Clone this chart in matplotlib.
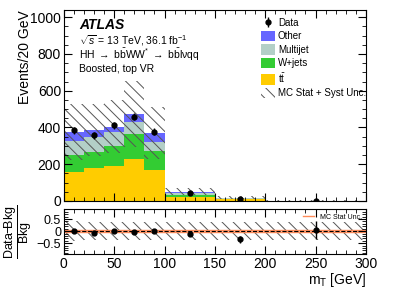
import matplotlib
matplotlib.use("Agg")
import matplotlib.pyplot as plt
import numpy as np
from matplotlib.ticker import MultipleLocator

plt.rcParams['font.family'] = ['Liberation Sans', 'DejaVu Sans']
plt.rcParams['mathtext.fontset'] = 'custom'
plt.rcParams['mathtext.rm'] = 'Liberation Sans'
plt.rcParams['mathtext.it'] = 'Liberation Sans:italic'
plt.rcParams['hatch.color'] = '#555555'
plt.rcParams['hatch.linewidth'] = 0.7

# bins in m_T [GeV], contents in events / 20 GeV
edges = [0, 20, 40, 60, 80, 100, 150, 200, 300]
ttbar = [158, 177, 191, 227, 171, 23, 10, 1.2]
wjets = [91, 89, 108, 139, 99, 10, 3, 0.4]
multijet = [77, 82, 76, 63, 51, 8, 2, 0.2]
other = [49, 39, 30, 45, 48, 9, 3, 0.3]
bkg_unc = [150, 140, 145, 180, 140, 19, 7, 0.8]
data = [384, 357, 411, 459, 378, 45, 12, 2.2]
data_err = [20, 19, 20, 21, 19, 4, 2.5, 0.8]
mc_stat = [0.05, 0.05, 0.05, 0.05, 0.05, 0.05, 0.05, 0.05]

edges = np.array(edges, dtype=float)
centers = 0.5 * (edges[:-1] + edges[1:])
widths = np.diff(edges)

fig = plt.figure(figsize=(3.99, 2.90), dpi=100)
ax = fig.add_axes([0.160, 0.307, 0.757, 0.659])
rax = fig.add_axes([0.160, 0.124, 0.757, 0.154])

stack = [(ttbar, '#ffcc00', r'$\mathrm{t\bar{t}}$'),
         (wjets, '#33cc33', 'W+jets'),
         (multijet, '#b3cfc7', 'Multijet'),
         (other, '#6666ff', 'Other')]
bottom = np.zeros(len(centers))
handles = {}
for vals, col, lab in stack:
    vals = np.array(vals)
    b = ax.bar(edges[:-1], vals, width=widths, bottom=bottom, align='edge',
               color=col, edgecolor='none', label=lab)
    handles[lab] = b
    bottom = bottom + vals
total = bottom

unc = np.array(bkg_unc)
hb = ax.bar(edges[:-1], 2 * unc, width=widths, bottom=total - unc, align='edge',
            color='none', edgecolor='#555555', linewidth=0, hatch='\\\\\\',
            label='MC Stat + Syst Unc.')
de = ax.errorbar(centers, data, yerr=data_err, fmt='o', color='black',
                 markersize=3.5, elinewidth=1.0, capsize=0, label='Data')

ax.set_xlim(0, 300)
ax.set_ylim(0, 1040)
ax.set_ylabel('Events/20 GeV', fontsize=10, loc='top')
ax.yaxis.set_label_coords(-0.105, 1.0)
ax.yaxis.set_major_locator(MultipleLocator(200))
ax.yaxis.set_minor_locator(MultipleLocator(50))
ax.xaxis.set_major_locator(MultipleLocator(50))
ax.xaxis.set_minor_locator(MultipleLocator(10))
ax.tick_params(axis='both', which='both', direction='in', top=True, right=True,
               labelsize=10, pad=2)
ax.tick_params(which='major', length=6)
ax.tick_params(which='minor', length=3)
ax.tick_params(axis='x', labelbottom=False)

ax.text(0.05, 0.90, 'ATLAS', transform=ax.transAxes, fontsize=10,
        fontweight='bold', fontstyle='italic')
ax.text(0.05, 0.82, r'$\sqrt{s}$ = 13 TeV, 36.1 fb$^{-1}$', transform=ax.transAxes,
        fontsize=7.5)
ax.text(0.05, 0.745, r'HH $\rightarrow$ $\mathrm{b\bar{b}WW^{*}}$ $\rightarrow$ '
        r'$\mathrm{b\bar{b}l\nu qq}$', transform=ax.transAxes, fontsize=7.5)
ax.text(0.05, 0.675, 'Boosted, top VR', transform=ax.transAxes, fontsize=7.5)

order = [de, handles['Other'], handles['Multijet'], handles['W+jets'],
         handles[r'$\mathrm{t\bar{t}}$'], hb]
ax.legend(order, [h.get_label() for h in order], loc='upper left',
          bbox_to_anchor=(0.63, 0.995), frameon=False, fontsize=7,
          handlelength=1.4, handleheight=1.25, labelspacing=0.3,
          handletextpad=0.35, borderaxespad=0.3)

# ratio panel
ratio = (np.array(data) - total) / total
ratio_err = np.array(data_err) / total
rel_unc = unc / total
ms = np.array(mc_stat)
rax.bar(edges[:-1], 2 * rel_unc, width=widths, bottom=-rel_unc, align='edge',
        color='none', edgecolor='#555555', linewidth=0, hatch='\\\\\\')
rax.bar(edges[:-1], 2 * ms, width=widths, bottom=-ms, align='edge',
        color='#ffb08a', alpha=0.6, edgecolor='none')
rax.stairs(ms, edges, color='#ff8c5a', linewidth=1.0, baseline=None,
           label='MC Stat Unc.')
rax.stairs(-ms, edges, color='#ff8c5a', linewidth=1.0, baseline=None)
rax.axhline(0, color='black', linestyle='--', linewidth=0.8)
rax.errorbar(centers, ratio, yerr=ratio_err, fmt='o', color='black',
             markersize=3.5, elinewidth=1.0, capsize=0)
rax.set_xlim(0, 300)
rax.set_ylim(-0.95, 0.9)
rax.yaxis.set_major_locator(MultipleLocator(0.5))
rax.yaxis.set_minor_locator(MultipleLocator(0.1))
rax.xaxis.set_major_locator(MultipleLocator(50))
rax.xaxis.set_minor_locator(MultipleLocator(10))
rax.tick_params(axis='both', which='both', direction='in', top=True, right=True,
                labelsize=10, pad=2)
rax.tick_params(axis='y', labelsize=9)
rax.tick_params(which='major', length=6)
rax.tick_params(which='minor', length=3)
rax.set_yticks([-0.5, 0, 0.5])
rax.set_yticklabels(['\u22120.5', '0', '0.5'])
rax.set_ylabel(r'$\dfrac{\mathrm{Data}\!\!-\!\!\mathrm{Bkg}}{\mathrm{Bkg}}$', fontsize=9)
rax.yaxis.set_label_coords(-0.10, 0.5)
rax.set_xlabel(r'$\mathrm{m_{T}}$ [GeV]', fontsize=10, loc='right', labelpad=0)
rax.legend(loc='upper right', frameon=False, fontsize=5, handlelength=1.6,
           borderaxespad=0.2)

fig.savefig('out.png', dpi=100)
